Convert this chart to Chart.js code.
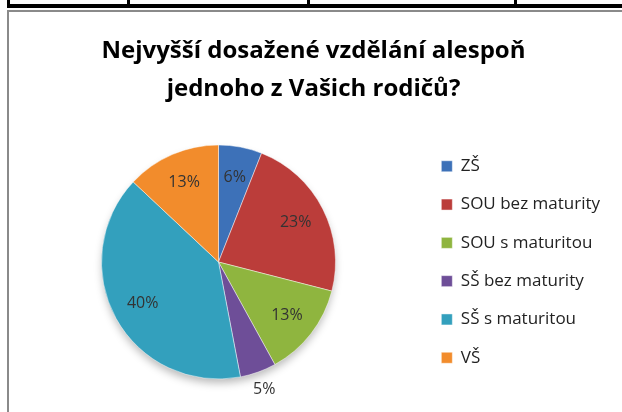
<!DOCTYPE html>
<html>
<head>
<meta charset="utf-8">
<script src="https://cdn.jsdelivr.net/npm/chart.js@4.4.0/dist/chart.umd.min.js"></script>
<style>
  html, body { margin: 0; padding: 0; background: #fff; }
  #wrap { position: relative; width: 622px; height: 412px; overflow: hidden; }
  .ln { position: absolute; background: #000; }
  #frame { position: absolute; left: 7px; top: 10px; right: -10px; bottom: -10px;
           border-top: 2px solid #8a8a8a; border-left: 2px solid #8a8a8a; }
  #box { position: absolute; left: 0; top: 0; width: 622px; height: 412px; }
</style>
</head>
<body>
<div id="wrap">
  <div class="ln" style="left:7px;top:4px;width:615px;height:4px"></div>
  <div class="ln" style="left:7px;top:0;width:3px;height:8px"></div>
  <div class="ln" style="left:127px;top:0;width:3px;height:8px"></div>
  <div class="ln" style="left:307px;top:0;width:3px;height:8px"></div>
  <div class="ln" style="left:514px;top:0;width:3px;height:8px"></div>
  <div id="frame"></div>
  <div id="box"><canvas id="chart"></canvas></div>
</div>
<script>
// Data
const categories = ['ZŠ', 'SOU bez maturity', 'SOU s maturitou', 'SŠ bez maturity', 'SŠ s maturitou', 'VŠ'];
const shares = [6, 23, 13, 5, 40, 13];
const colors = ['#3d71b8', '#bb3d3a', '#8fb53f', '#6e4e98', '#33a0bd', '#f28c2c'];
const titleLines = ['Nejvyšší dosažené vzdělání alespoň', 'jednoho z Vašich rodičů?'];

// soft shadow under the pie
const pieShadow = {
    id: 'pieShadow',
    beforeDatasetsDraw(chart) {
        const arc = chart.getDatasetMeta(0).data[0];
        if (!arc) return;
        const { x, y, outerRadius } = arc.getProps(['x', 'y', 'outerRadius'], true);
        const ctx = chart.ctx;
        ctx.save();
        ctx.shadowColor = 'rgba(0,0,0,0.28)';
        ctx.shadowBlur = 9;
        ctx.shadowOffsetY = 5;
        ctx.fillStyle = '#fff';
        ctx.beginPath();
        ctx.arc(x, y, outerRadius - 1, 0, Math.PI * 2);
        ctx.fill();
        ctx.restore();
    }
};

// percentage labels on the slices
const sliceLabels = {
    id: 'sliceLabels',
    afterDatasetsDraw(chart) {
        const ctx = chart.ctx;
        const meta = chart.getDatasetMeta(0);
        ctx.save();
        ctx.font = '16px "Open Sans"';
        ctx.fillStyle = '#333';
        ctx.textAlign = 'center';
        ctx.textBaseline = 'middle';
        meta.data.forEach((arc, i) => {
            const p = arc.getProps(['x', 'y', 'startAngle', 'endAngle', 'outerRadius'], true);
            const mid = (p.startAngle + p.endAngle) / 2;
            const v = shares[i];
            const r = v < 6 ? p.outerRadius + 18 : p.outerRadius * 0.74;
            ctx.fillText(v + '%', p.x + Math.cos(mid) * r, p.y + Math.sin(mid) * r);
        });
        ctx.restore();
    }
};

new Chart(document.getElementById('chart'), {
    type: 'pie',
    data: {
        labels: categories,
        datasets: [{
            data: shares,
            backgroundColor: colors,
            borderColor: 'rgba(255,255,255,0.45)',
            borderWidth: 1,
            radius: 117
        }]
    },
    options: {
        responsive: true,
        maintainAspectRatio: false,
        animation: false,
        layout: { padding: { left: 17, right: 12, top: 0, bottom: 20 } },
        plugins: {
            title: {
                display: true,
                text: titleLines,
                color: '#000',
                font: { family: 'Open Sans', size: 24, weight: 'bold', lineHeight: '38px' },
                padding: { top: 32, bottom: 24 }
            },
            legend: {
                position: 'right',
                fullSize: false,
                labels: {
                    boxWidth: 11,
                    boxHeight: 11,
                    padding: 21.3,
                    color: '#222',
                    font: { family: 'Open Sans', size: 17 }
                }
            },
            tooltip: { enabled: false }
        }
    },
    plugins: [pieShadow, sliceLabels]
});
</script>
</body>
</html>
